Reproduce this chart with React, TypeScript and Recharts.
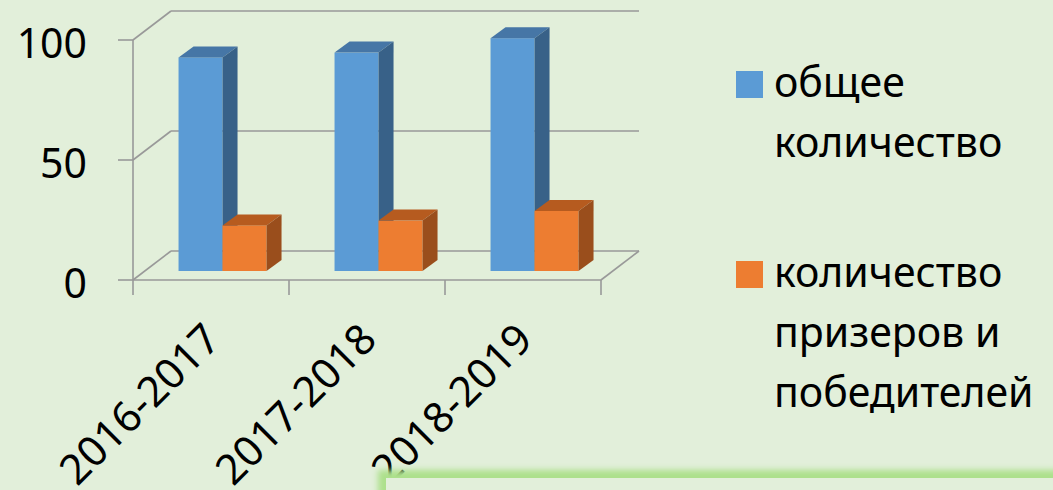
import { BarChart, Bar, XAxis, YAxis, CartesianGrid } from 'recharts';

const years = ['2016-2017', '2017-2018', '2018-2019'];
const totalCount = [89, 91, 97];
const winnersCount = [19, 21, 25];
const yTicks = [0, 50, 100];
const seriesNames = ['общее количество', 'количество призеров и победителей'];
const seriesColors = ['#5B9BD5', '#ED7D31'];

const data = years.map((year, i) => ({
  year,
  total: totalCount[i],
  winners: winnersCount[i],
}));

const BG = '#E2EFDA';
const GRID = '#999999';
const FONT = '"Noto Sans", sans-serif';

// fake 3d: back wall offset, row of bars offset, box depth
const WALL_DX = 38;
const WALL_DY = 29;
const ROW_DX = 12;
const ROW_DY = 9;
const BOX_DX = 15;
const BOX_DY = 11;

const makeBox = (front: string, top: string, side: string) => (props: any) => {
  const { x, y, width, height } = props;
  if (!height) return <g />;
  const fx = x + ROW_DX;
  const fy = y - ROW_DY;
  return (
    <g>
      <rect x={fx} y={fy} width={width} height={height} fill={front} />
      <polygon
        points={`${fx},${fy} ${fx + BOX_DX},${fy - BOX_DY} ${fx + width + BOX_DX},${fy - BOX_DY} ${fx + width},${fy}`}
        fill={top}
      />
      <polygon
        points={`${fx + width},${fy} ${fx + width + BOX_DX},${fy - BOX_DY} ${fx + width + BOX_DX},${fy + height - BOX_DY} ${fx + width},${fy + height}`}
        fill={side}
      />
    </g>
  );
};

const WallLine = (props: any) => {
  const { x1, x2, y1, y, height } = props;
  const isFloor = Math.abs(y1 - (y + height)) < 1;
  return (
    <g stroke={GRID} strokeWidth={1.6}>
      <line x1={x1} y1={y1} x2={x1 + WALL_DX} y2={y1 - WALL_DY} />
      <line x1={x1 + WALL_DX} y1={y1 - WALL_DY} x2={x2 + WALL_DX} y2={y1 - WALL_DY} />
      {isFloor && <line x1={x2} y1={y1} x2={x2 + WALL_DX} y2={y1 - WALL_DY} />}
    </g>
  );
};

const CategoryTick = (props: any) => {
  const { x, y, payload, index, visibleTicksCount } = props;
  const half = payload?.offset ?? 78;
  const ty = y + 50;
  return (
    <g>
      <line x1={x - half} y1={y} x2={x - half} y2={y + 15} stroke={GRID} strokeWidth={1.6} />
      {index === visibleTicksCount - 1 && (
        <line x1={x + half} y1={y} x2={x + half} y2={y + 15} stroke={GRID} strokeWidth={1.6} />
      )}
      <text
        x={x}
        y={ty}
        textAnchor='end'
        dominantBaseline='central'
        fontSize={42}
        fontFamily={FONT}
        fill='#000'
        transform={`rotate(-45 ${x} ${ty})`}>
        {payload.value}
      </text>
    </g>
  );
};

export default function App() {
  return (
    <div
      style={{
        position: 'fixed',
        left: 0,
        top: 0,
        width: 1053,
        height: 490,
        background: BG,
        overflow: 'hidden',
        fontFamily: FONT,
      }}>
      <BarChart
        width={1053}
        height={490}
        data={data}
        barGap={0}
        barCategoryGap='21.5%'
        margin={{ top: 40, right: 452, left: 73, bottom: 60 }}>
        <CartesianGrid vertical={false} horizontal={WallLine} />
        <XAxis
          dataKey='year'
          height={150}
          tickSize={0}
          tickMargin={0}
          tickLine={false}
          axisLine={{ stroke: GRID, strokeWidth: 1.6 }}
          tick={CategoryTick}
          interval={0}
        />
        <YAxis
          width={60}
          domain={[0, 100]}
          ticks={yTicks}
          tickSize={15}
          tickMargin={31}
          axisLine={{ stroke: GRID, strokeWidth: 1.6 }}
          tickLine={{ stroke: GRID, strokeWidth: 1.6 }}
          tick={{ fontSize: 41, fill: '#000', fontFamily: FONT, dy: 3 }}
        />
        <Bar
          dataKey='total'
          name={seriesNames[0]}
          fill={seriesColors[0]}
          shape={makeBox(seriesColors[0], '#4676A6', '#386188')}
          isAnimationActive={false}
        />
        <Bar
          dataKey='winners'
          name={seriesNames[1]}
          fill={seriesColors[1]}
          shape={makeBox(seriesColors[1], '#B65B1F', '#9A4E1C')}
          isAnimationActive={false}
        />
      </BarChart>

      <div style={{ position: 'absolute', left: 736, top: 0, fontSize: 41, lineHeight: '60px', color: '#000' }}>
        {seriesNames.map((name, i) => (
          <div
            key={name}
            style={{ position: 'absolute', top: i === 0 ? 51 : 241, left: 0, width: 315 }}>
            <div
              style={{
                position: 'absolute',
                left: 0,
                top: 20,
                width: 27,
                height: 27,
                background: seriesColors[i],
              }}
            />
            <div style={{ marginLeft: 38, width: 277 }}>{name}</div>
          </div>
        ))}
      </div>

      <div
        style={{
          position: 'absolute',
          left: 386,
          top: 478,
          width: 720,
          height: 60,
          background: BG,
          boxShadow: '0 0 6px 8px #ADE08C',
        }}
      />
    </div>
  );
}
